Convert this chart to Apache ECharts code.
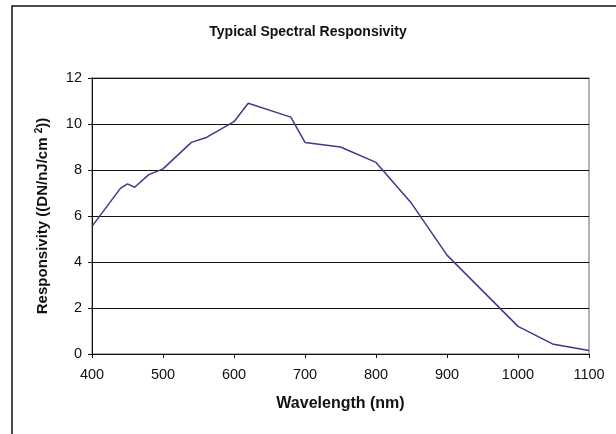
<!DOCTYPE html>
<html>
<head>
<meta charset="utf-8">
<script src="https://cdn.jsdelivr.net/npm/echarts@6/dist/echarts.min.js"></script>
<style>html,body{margin:0;padding:0;background:#fff;}#c{width:616px;height:434px;}</style>
</head>
<body>
<div id="c"></div>
<script>
const wavelengths = [400, 440, 450, 460, 480, 500, 540, 560, 600, 620, 680, 700, 750, 800, 850, 900, 1000, 1050, 1100];
const responsivity = [5.55, 7.2, 7.4, 7.25, 7.8, 8.05, 9.2, 9.4, 10.1, 10.9, 10.3, 9.2, 9.0, 8.33, 6.55, 4.3, 1.2, 0.42, 0.15];
const xTicks = [400, 500, 600, 700, 800, 900, 1000, 1100];
const yTicks = [0, 2, 4, 6, 8, 10, 12];

const chart = echarts.init(document.getElementById('c'), null, {renderer: 'canvas'});
const font = 'Liberation Sans, Arial, sans-serif';
chart.setOption({
  animation: false,
  backgroundColor: '#fff',
  title: {
    text: 'Typical Spectral Responsivity',
    left: 'center', top: 20,
    textStyle: {fontFamily: font, fontSize: 14, fontWeight: 'bold', color: '#111'}
  },
  graphic: [{
    type: 'polyline',
    shape: {points: [[12, 440], [12, 6], [620, 6]]},
    style: {stroke: '#111', lineWidth: 1.5, fill: null}
  }],
  grid: {left: 92, top: 78, right: 27, bottom: 80, show: true, borderColor: '#999', borderWidth: 1.5, backgroundColor: 'transparent'},
  xAxis: {
    type: 'value', min: xTicks[0], max: xTicks[xTicks.length - 1], interval: 100,
    name: 'Wavelength (nm)', nameLocation: 'middle', nameGap: 42,
    nameTextStyle: {fontFamily: font, fontSize: 16, fontWeight: 'bold', color: '#111'},
    axisLine: {show: true, lineStyle: {color: '#111', width: 1}},
    axisTick: {show: true, length: 4, lineStyle: {color: '#111'}},
    axisLabel: {fontFamily: font, fontSize: 14.5, color: '#111', margin: 13,
      formatter: v => xTicks.includes(v) ? String(v) : ''},
    splitLine: {show: false}
  },
  yAxis: {
    type: 'value', min: yTicks[0], max: yTicks[yTicks.length - 1], interval: 2,
    name: '{n|Responsivity ((DN/nJ/cm }{s|2}{n|))}', nameLocation: 'middle', nameGap: 41,
    nameTextStyle: {
      rich: {
        n: {fontFamily: font, fontSize: 15, fontWeight: 'bold', color: '#111'},
        s: {fontFamily: font, fontSize: 10, fontWeight: 'bold', color: '#111', verticalAlign: 'top', padding: [0, 0, 7, 0]}
      }
    },
    axisLine: {show: true, lineStyle: {color: '#111', width: 1}},
    axisTick: {show: true, length: 4, lineStyle: {color: '#111'}},
    axisLabel: {fontFamily: font, fontSize: 14.5, color: '#111', margin: 10,
      formatter: v => yTicks.includes(v) ? String(v) : ''},
    splitLine: {show: true, lineStyle: {color: '#111', width: 1}}
  },
  series: [{
    type: 'line',
    data: wavelengths.map((w, i) => [w, responsivity[i]]),
    showSymbol: false,
    lineStyle: {color: '#3b3b8e', width: 1.5},
    itemStyle: {color: '#3b3b8e'}
  }]
});
</script>
</body>
</html>
